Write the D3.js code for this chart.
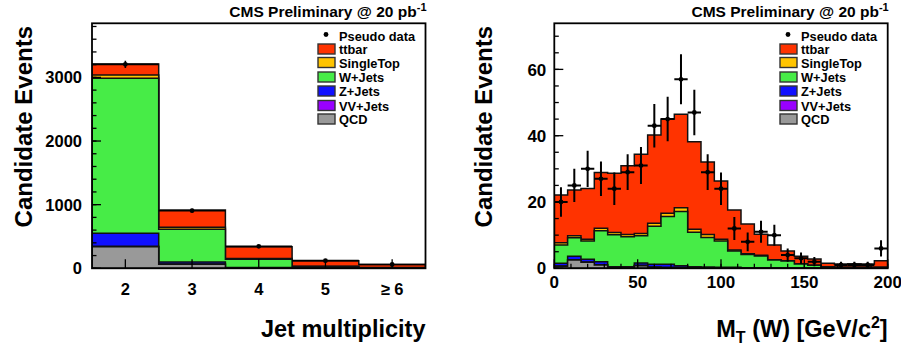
<!DOCTYPE html>
<html><head><meta charset="utf-8">
<script src="https://cdn.jsdelivr.net/npm/d3@7"></script>
<style>
body{margin:0;background:#fff}
svg{display:block;font-family:"Liberation Sans",Arial,Helvetica,sans-serif;font-weight:bold}
</style>
</head><body>
<svg id="c" width="901" height="352"></svg>
<script>
// ---------- data ----------
const legendNames = ["Pseudo data", "ttbar", "SingleTop", "W+Jets", "Z+Jets", "VV+Jets", "QCD"];
const componentNames = ["QCD", "VV+Jets", "Z+Jets", "W+Jets", "SingleTop", "ttbar"]; // bottom -> top
const componentColors = ["#999999", "#9900ff", "#1010ff", "#47ec47", "#ffc400", "#ff3300"];

// Left panel: jet multiplicity
const jetCategories = ["2", "3", "4", "5", "\u2265 6"];
const jetQCD       = [340, 63, 5, 2, 1];
const jetVV        = [8, 3, 2, 1, 0];
const jetZ         = [202, 33, 5, 2, 1];
const jetW         = [2437, 514, 129, 22, 8];
const jetSingleTop = [52, 32, 12, 5, 3];
const jetTtbar     = [171, 272, 187, 86, 45];
const jetData      = [3205, 905, 345, 120, 60];
const jetYTicks    = [0, 1000, 2000, 3000];

// Right panel: M_T(W), 8 GeV bins
const mtEdges = [0, 8, 16, 24, 32, 40, 48, 56, 64, 72, 80, 88, 96, 104, 112, 120, 128, 136, 144, 152, 160, 168, 176, 184, 192, 200];
const mtQCD       = [0.6, 2.5, 1.8, 1.0, 0.2, 0.2, 0.8, 0.3, 0.2, 0.2, 0.1, 0.1, 0.1, 0.1, 0.05, 0.05, 0, 0, 0, 0, 0, 0, 0, 0, 0];
const mtVV        = [0.1, 0.1, 0.1, 0.1, 0.1, 0.1, 0.1, 0.1, 0.1, 0.1, 0.1, 0.1, 0.05, 0.05, 0.05, 0.05, 0.05, 0, 0, 0, 0, 0, 0, 0, 0];
const mtZ         = [0.8, 1.0, 0.8, 0.9, 0.2, 0.2, 0.7, 0.8, 0.9, 0.5, 0.3, 0.2, 0.15, 0.15, 0.1, 0.1, 0.05, 0.05, 0.05, 0.05, 0, 0, 0, 0, 0];
const mtW         = [5.5, 5.6, 5.5, 9.3, 9.6, 9.0, 8.2, 11.5, 14.4, 16.3, 10.4, 8.9, 7.9, 4.9, 4.0, 3.5, 2.4, 2.15, 1.25, 0.85, 0.4, 0.3, 0.3, 0.3, 0.3];
const mtSingleTop = [0.7, 0.6, 0.6, 0.8, 0.7, 0.7, 0.7, 0.9, 1.0, 1.2, 0.9, 0.9, 0.6, 0.3, 0.2, 0.2, 0.1, 0.1, 0.1, 0.05, 0.05, 0.05, 0.05, 0.05, 0.05];
const mtTtbar     = [14.4, 13.8, 15.3, 16.8, 17.9, 20.7, 23.9, 26.6, 28.4, 28.2, 26.4, 21.9, 17.5, 12.1, 9.0, 6.4, 4.4, 2.9, 2.2, 1.85, 1.05, 0.95, 1.05, 0.95, 1.95];
const mtData      = [20, 25, 30, 27, 24, 29, 31, 43, 45, 57, 47, 29, 24, 12, 8, 11, 10, 4, 3, 2, 0, 1, 1, 1, 6];
const mtXTicks = [0, 50, 100, 150, 200];
const mtYTicks = [0, 20, 40, 60];

const headerText = "CMS Preliminary @ 20 pb";

// ---------- drawing ----------
const svg = d3.select("#c");
const colorOf = d3.scaleOrdinal().domain(componentNames).range(componentColors);

function rowsFrom(arrs) {
  return arrs[0].map((_, i) => {
    const r = {};
    componentNames.forEach((k, j) => r[k] = arrs[j][i]);
    return r;
  });
}

function drawPanel(p) {
  const g = svg.append("g");
  const top = 23.3, bot = 268.3;
  const y = d3.scaleLinear().domain([0, p.yMax]).range([bot, top]);
  const clipId = "clip" + p.id;
  svg.append("clipPath").attr("id", clipId).append("rect")
    .attr("x", p.x0).attr("y", top).attr("width", p.x1 - p.x0).attr("height", bot - top);

  const rows = rowsFrom(p.series);
  const layers = d3.stack().keys(componentNames)(rows);
  const plot = g.append("g").attr("clip-path", `url(#${clipId})`);

  const area = d3.area().x(d => d[0]).y0(y(0)).y1(d => y(d[1]));
  // draw cumulative histograms from top (total) down, ROOT THStack style
  layers.slice().reverse().forEach(layer => {
    const pts = [];
    layer.forEach((d, i) => {
      const [a, b] = p.binX(i);
      pts.push([a, d[1]], [b, d[1]]);
    });
    plot.append("path").attr("d", area(pts))
      .attr("fill", colorOf(layer.key))
      .attr("stroke", "#111").attr("stroke-width", 1.5)
      .attr("stroke-linejoin", "miter");
  });

  // pseudo data
  const dg = plot.append("g").attr("stroke", "#000").attr("stroke-width", p.errW);
  p.data.forEach((v, i) => {
    if (v <= 0) return;
    const [a, b] = p.binX(i);
    const cx = (a + b) / 2, e = Math.sqrt(v);
    dg.append("line").attr("x1", cx).attr("x2", cx).attr("y1", y(v - e)).attr("y2", y(v + e));
    dg.append("line").attr("x1", a).attr("x2", b).attr("y1", y(v)).attr("y2", y(v));
    dg.append("circle").attr("cx", cx).attr("cy", y(v)).attr("r", 2.4).attr("fill", "#000").attr("stroke", "none");
  });

  // frame
  g.append("rect").attr("x", p.x0).attr("y", top).attr("width", p.x1 - p.x0).attr("height", bot - top)
    .attr("fill", "none").attr("stroke", "#000").attr("stroke-width", 1.8);

  // y ticks
  const tg = g.append("g").attr("stroke", "#000").attr("stroke-width", 1.3);
  p.yMinor.forEach(v => tg.append("line").attr("x1", p.x0).attr("x2", p.x0 + 4.5).attr("y1", y(v)).attr("y2", y(v)));
  p.yTicks.forEach(v => tg.append("line").attr("x1", p.x0).attr("x2", p.x0 + 9).attr("y1", y(v)).attr("y2", y(v)));
  p.yTicks.forEach(v => g.append("text").attr("x", p.x0 - p.yLabGap).attr("y", y(v)).attr("dy", "0.36em")
    .attr("text-anchor", "end").attr("font-size", p.labSize).text(v));

  // x ticks + labels
  p.xMinor.forEach(xx => tg.append("line").attr("x1", xx).attr("x2", xx).attr("y1", bot).attr("y2", bot - 4.5));
  p.xMajor.forEach(t => tg.append("line").attr("x1", t.x).attr("x2", t.x).attr("y1", bot).attr("y2", bot - 9));
  p.xMajor.forEach(t => g.append("text").attr("x", t.x).attr("y", p.xLabY).attr("text-anchor", "middle")
    .attr("font-size", p.labSize).text(t.label));

  // header
  const h = g.append("text").attr("x", p.x1 + 1).attr("y", 17).attr("text-anchor", "end").attr("font-size", 15.5);
  h.append("tspan").text(headerText);
  h.append("tspan").attr("font-size", 11).attr("dy", -6).text("-1");

  // y title
  g.append("text").attr("transform", `translate(${p.yTitleX},26) rotate(-90)`)
    .attr("text-anchor", "end").attr("font-size", 24).text("Candidate Events");

  // x title
  const xt = g.append("text").attr("x", p.x1).attr("y", 337).attr("text-anchor", "end").attr("font-size", 23.5);
  p.xTitle(xt);

  // legend
  const lg = g.append("g");
  const rowsY = [36, 49.5, 63, 77.5, 91.5, 106, 119.5];
  legendNames.forEach((name, i) => {
    const ry = rowsY[i];
    if (i === 0) {
      lg.append("circle").attr("cx", p.legX + 8).attr("cy", ry - 1.5).attr("r", 2.4).attr("fill", "#000");
    } else {
      lg.append("rect").attr("x", p.legX).attr("y", ry - 5.5).attr("width", 17).attr("height", 10)
        .attr("fill", colorOf(name)).attr("stroke", "#333").attr("stroke-width", 1.4);
    }
    lg.append("text").attr("x", p.legX + 21).attr("y", ry).attr("dy", "0.36em").attr("font-size", 12.8).text(name);
  });
}

// left panel
const xBand = d3.scaleBand().domain(jetCategories).range([92, 425.5]).padding(0);
const jetMinor = d3.range(0, 3801, 200);
drawPanel({
  id: "L", x0: 92, x1: 425.5, yMax: 3850,
  series: [jetQCD, jetVV, jetZ, jetW, jetSingleTop, jetTtbar],
  data: jetData,
  binX: i => [xBand(jetCategories[i]), xBand(jetCategories[i]) + xBand.bandwidth()],
  yTicks: jetYTicks, yMinor: jetMinor, yLabGap: 10, labSize: 16.5,
  xMinor: [],
  xMajor: jetCategories.map(c => ({x: xBand(c) + xBand.bandwidth() / 2, label: c})),
  xLabY: 295, errW: 1.6,
  yTitleX: 32, legX: 318,
  xTitle: t => t.text("Jet multiplicity")
});

// right panel
const xMT = d3.scaleLinear().domain([0, 200]).range([554.3, 887.7]);
drawPanel({
  id: "R", x0: 554.3, x1: 887.7, yMax: 73.9,
  series: [mtQCD, mtVV, mtZ, mtW, mtSingleTop, mtTtbar],
  data: mtData,
  binX: i => [xMT(mtEdges[i]), xMT(mtEdges[i + 1])],
  yTicks: mtYTicks, yMinor: d3.range(0, 71, 5), yLabGap: 8, labSize: 17,
  xMinor: d3.range(0, 201, 10).map(v => xMT(v)),
  xMajor: mtXTicks.map(v => ({x: xMT(v), label: v})),
  xLabY: 287.5, errW: 2,
  yTitleX: 492, legX: 780,
  xTitle: t => {
    t.append("tspan").text("M");
    t.append("tspan").attr("font-size", 16).attr("dy", 6).text("T");
    t.append("tspan").attr("dy", -6).text(" (W) [GeV/c");
    t.append("tspan").attr("font-size", 16).attr("dy", -9).text("2");
    t.append("tspan").attr("dy", 9).text("]");
  }
});
</script>
</body></html>
